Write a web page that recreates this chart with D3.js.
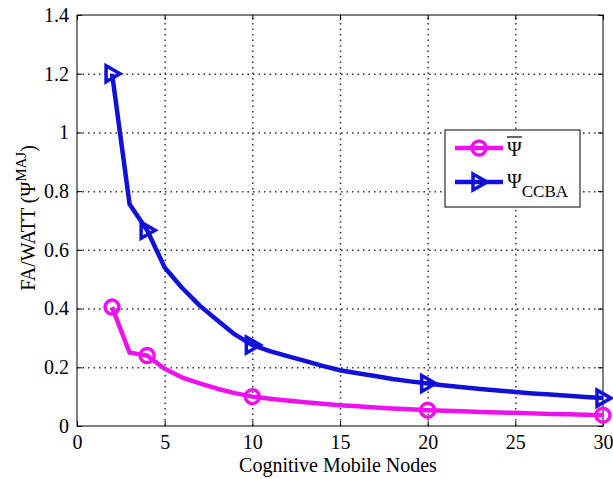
<!DOCTYPE html>
<html><head><meta charset="utf-8">
<script src="https://cdn.jsdelivr.net/npm/d3@7"></script>
<style>body{margin:0;background:#fff}svg{display:block}svg text{font-family:"Liberation Serif","Times New Roman",serif;fill:#000}</style>
</head><body>
<svg id="c" width="613" height="479"></svg>
<script>
const xTicks = [0,5,10,15,20,25,30];
const yTicks = [0,0.2,0.4,0.6,0.8,1,1.2,1.4];
const nodes = [2,3,4,5,6,7,8,9,10,11,12,13,14,15,16,17,18,19,20,21,22,23,24,25,26,27,28,29,30];
const psiBar = [0.405,0.25,0.24,0.195,0.165,0.145,0.127,0.112,0.100,0.093,0.087,0.081,0.076,0.071,0.067,0.063,0.060,0.057,0.054,0.052,0.050,0.048,0.046,0.045,0.043,0.041,0.040,0.038,0.037];
const psiCCBA = [1.2,0.755,0.667,0.54,0.47,0.41,0.36,0.312,0.276,0.255,0.238,0.222,0.205,0.19,0.18,0.17,0.16,0.152,0.145,0.138,0.132,0.126,0.121,0.116,0.111,0.107,0.103,0.099,0.095];
const markerNodes = [2,4,10,20,30];

const svg = d3.select("#c");
const L=77,R=603,T=15,B=426;
const x = d3.scaleLinear().domain([0,30]).range([L,R]);
const y = d3.scaleLinear().domain([0,1.4]).range([B,T]);

// grid via axis tick lines (dotted)
const gx = svg.append("g").attr("class","gridx").attr("transform",`translate(0,${B})`)
 .call(d3.axisBottom(x).tickValues(xTicks.slice(1,-1)).tickSize(-(B-T)).tickFormat(""));
const gy = svg.append("g").attr("class","gridy").attr("transform",`translate(${L},0)`)
 .call(d3.axisLeft(y).tickValues(yTicks.slice(1,-1)).tickSize(-(R-L)).tickFormat(""));
[gx,gy].forEach(a=>{a.select(".domain").remove();a.selectAll("line").attr("stroke","#333").attr("stroke-width",1.5).attr("stroke-dasharray","1.5,4");});

// axes
const xa = svg.append("g").attr("transform",`translate(0,${B})`)
 .call(d3.axisBottom(x).tickValues(xTicks).tickSizeInner(-5).tickSizeOuter(0).tickPadding(9).tickFormat(d3.format("d")));
const xt = svg.append("g").attr("transform",`translate(0,${T})`)
 .call(d3.axisTop(x).tickValues(xTicks).tickSizeInner(-5).tickSizeOuter(0).tickFormat(""));
const ya = svg.append("g").attr("transform",`translate(${L},0)`)
 .call(d3.axisLeft(y).tickValues(yTicks).tickSizeInner(-5).tickSizeOuter(0).tickPadding(8).tickFormat(d=>d===0?"0":d===1?"1":d3.format(".1f")(d)));
const yr = svg.append("g").attr("transform",`translate(${R},0)`)
 .call(d3.axisRight(y).tickValues(yTicks).tickSizeInner(-5).tickSizeOuter(0).tickFormat(""));
[xa,xt,ya,yr].forEach(a=>{a.attr("font-family",null).attr("font-size",null);a.select(".domain").remove();a.selectAll("line").attr("stroke","#000");a.selectAll("text").style("font-size","20px");});
svg.append("rect").attr("x",L).attr("y",T).attr("width",R-L).attr("height",B-T).attr("fill","none").attr("stroke","#000").attr("stroke-width",1);

// labels
svg.append("text").attr("x",(L+R)/2 - 2).attr("y",472).attr("text-anchor","middle").style("font-size","20px").text("Cognitive Mobile Nodes");
const yl = svg.append("text").attr("transform","translate(35,218) rotate(-90)").attr("text-anchor","middle").style("font-size","20px");
yl.append("tspan").text("FA/WATT (Ψ");
yl.append("tspan").attr("dy",-9).style("font-size","15px").text("MAJ");
yl.append("tspan").attr("dy",9).text(")");

const line = d3.line().x(d=>x(d[0])).y(d=>y(d[1])).curve(d3.curveLinear);
const series = [
 {vals:psiBar,color:"#ee11ee",marker:"o"},
 {vals:psiCCBA,color:"#1010d8",marker:">"}
];
const tri = (cx,cy)=>`M${cx-6},${cy-8}L${cx+8},${cy}L${cx-6},${cy+8}Z`;
series.forEach(s=>{
 const pts = nodes.map((n,i)=>[n,s.vals[i]]);
 svg.append("path").datum(pts).attr("d",line).attr("fill","none").attr("stroke",s.color).attr("stroke-width",4.5).attr("stroke-linejoin","round");
 const mp = pts.filter(p=>markerNodes.includes(p[0]));
 if(s.marker==="o"){
  svg.selectAll(null).data(mp).enter().append("circle").attr("cx",d=>x(d[0])).attr("cy",d=>y(d[1])).attr("r",7)
   .attr("fill","none").attr("stroke",s.color).attr("stroke-width",3.5);
 } else {
  svg.selectAll(null).data(mp).enter().append("path").attr("d",d=>tri(x(d[0]),y(d[1])))
   .attr("fill","none").attr("stroke",s.color).attr("stroke-width",3.5).attr("stroke-linejoin","miter");
 }
});

// legend
const lg = svg.append("g");
lg.append("rect").attr("x",445).attr("y",130).attr("width",135).attr("height",77).attr("fill","#fff").attr("stroke","#000").attr("stroke-width",1);
lg.append("line").attr("x1",455).attr("x2",503).attr("y1",148).attr("y2",148).attr("stroke",series[0].color).attr("stroke-width",4.5);
lg.append("circle").attr("cx",479).attr("cy",148).attr("r",7).attr("fill","none").attr("stroke",series[0].color).attr("stroke-width",3.5);
lg.append("line").attr("x1",455).attr("x2",503).attr("y1",182).attr("y2",182).attr("stroke",series[1].color).attr("stroke-width",4.5);
lg.append("path").attr("d",tri(479,182)).attr("fill","none").attr("stroke",series[1].color).attr("stroke-width",3.5);
lg.append("text").attr("x",507).attr("y",156).style("font-size","20px").text("Ψ");
lg.append("line").attr("x1",507).attr("x2",522).attr("y1",137).attr("y2",137).attr("stroke","#000").attr("stroke-width",1.2);
const t2 = lg.append("text").attr("x",507).attr("y",188).style("font-size","20px");
t2.append("tspan").text("Ψ");
t2.append("tspan").attr("dy",9).style("font-size","17px").text("CCBA");
</script>
</body></html>
